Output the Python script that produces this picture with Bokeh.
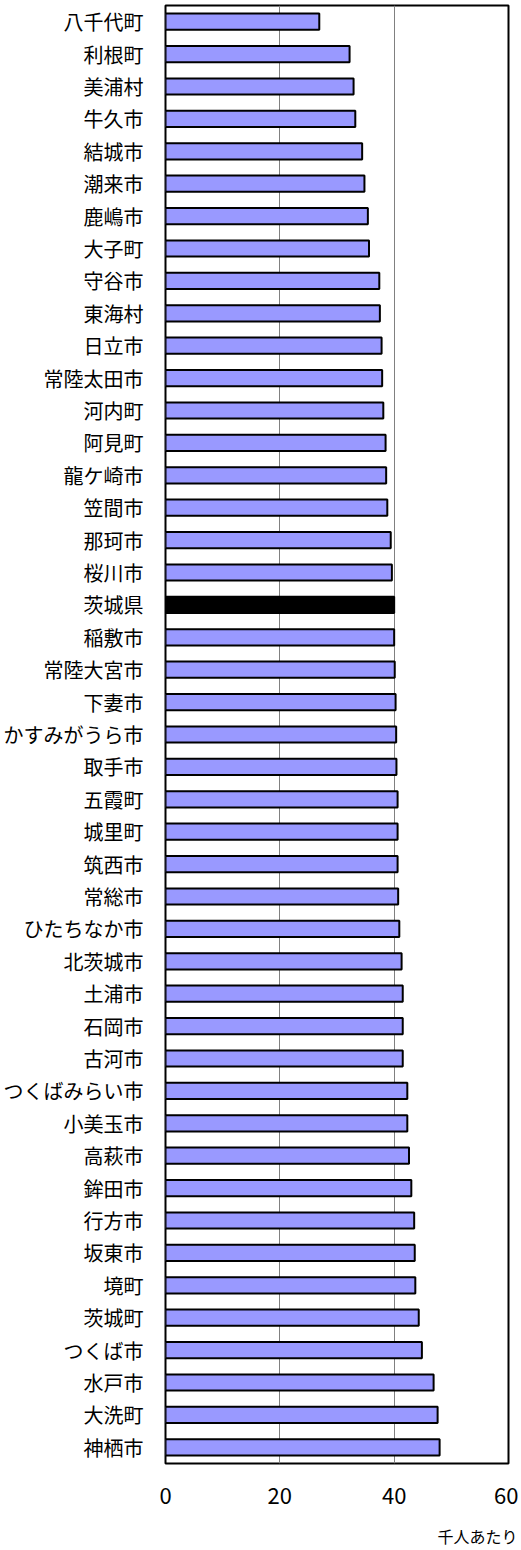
from bokeh.plotting import figure
from bokeh.models import ColumnDataSource, FixedTicker, Title, FactorRange, Range1d
from bokeh.embed import file_html
from bokeh.resources import INLINE

categories = ["八千代町", "利根町", "美浦村", "牛久市", "結城市", "潮来市", "鹿嶋市", "大子町",
              "守谷市", "東海村", "日立市", "常陸太田市", "河内町", "阿見町", "龍ケ崎市", "笠間市",
              "那珂市", "桜川市", "茨城県", "稲敷市", "常陸大宮市", "下妻市", "かすみがうら市", "取手市",
              "五霞町", "城里町", "筑西市", "常総市", "ひたちなか市", "北茨城市", "土浦市", "石岡市",
              "古河市", "つくばみらい市", "小美玉市", "高萩市", "鉾田市", "行方市", "坂東市", "境町",
              "茨城町", "つくば市", "水戸市", "大洗町", "神栖市"]
values = [26.9, 32.2, 32.9, 33.2, 34.4, 34.8, 35.4, 35.6,
          37.4, 37.5, 37.8, 37.9, 38.1, 38.5, 38.6, 38.8,
          39.4, 39.6, 40.0, 40.0, 40.1, 40.25, 40.35, 40.4,
          40.6, 40.6, 40.6, 40.7, 40.9, 41.3, 41.5, 41.5,
          41.5, 42.3, 42.3, 42.6, 43.0, 43.5, 43.6, 43.7,
          44.3, 44.85, 46.9, 47.6, 47.95]
highlight = "茨城県"
x_ticks = [0, 20, 40, 60]
unit_label = "千人あたり"

colors = ["#000000" if c == highlight else "#9999FF" for c in categories]
src = ColumnDataSource(dict(cat=categories, val=values, color=colors))

FONT = "Noto Sans CJK JP"

p = figure(y_range=FactorRange(*reversed(categories)), x_range=Range1d(0, 60),
           frame_width=343, frame_height=1458,
           min_border_left=165, min_border_right=10, min_border_top=5, min_border_bottom=86,
           output_backend="svg", toolbar_location=None)

p.hbar(y="cat", right="val", left=0, height=0.5, source=src,
       fill_color="color", line_color="#000000", line_width=2)

p.outline_line_color = "#000000"
p.outline_line_width = 2
p.background_fill_color = "white"
p.border_fill_color = "white"

p.xaxis.ticker = FixedTicker(ticks=x_ticks)
p.xaxis.axis_line_color = None
p.xaxis.major_tick_line_color = None
p.xaxis.minor_tick_line_color = None
p.xaxis.major_tick_out = 0
p.xaxis.major_tick_in = 0
p.xaxis.major_label_standoff = 24
p.xaxis.major_label_text_font = FONT
p.xaxis.major_label_text_font_size = "22px"
p.xaxis.major_label_text_color = "#000000"

p.yaxis.axis_line_color = None
p.yaxis.major_tick_line_color = None
p.yaxis.minor_tick_line_color = None
p.yaxis.major_tick_out = 0
p.yaxis.major_tick_in = 0
p.yaxis.major_label_standoff = 22
p.yaxis.major_label_text_font = FONT
p.yaxis.major_label_text_font_size = "20px"
p.yaxis.major_label_text_color = "#000000"

p.xgrid.ticker = FixedTicker(ticks=[20, 40])
p.xgrid.grid_line_color = "#808080"
p.xgrid.grid_line_width = 1
p.ygrid.grid_line_color = None

p.add_layout(Title(text=unit_label, align="right", offset=-9, standoff=30,
                   text_font=FONT, text_font_size="16px", text_font_style="normal",
                   text_color="#000000"), "below")

open("out.html", "w").write(file_html(p, INLINE))
